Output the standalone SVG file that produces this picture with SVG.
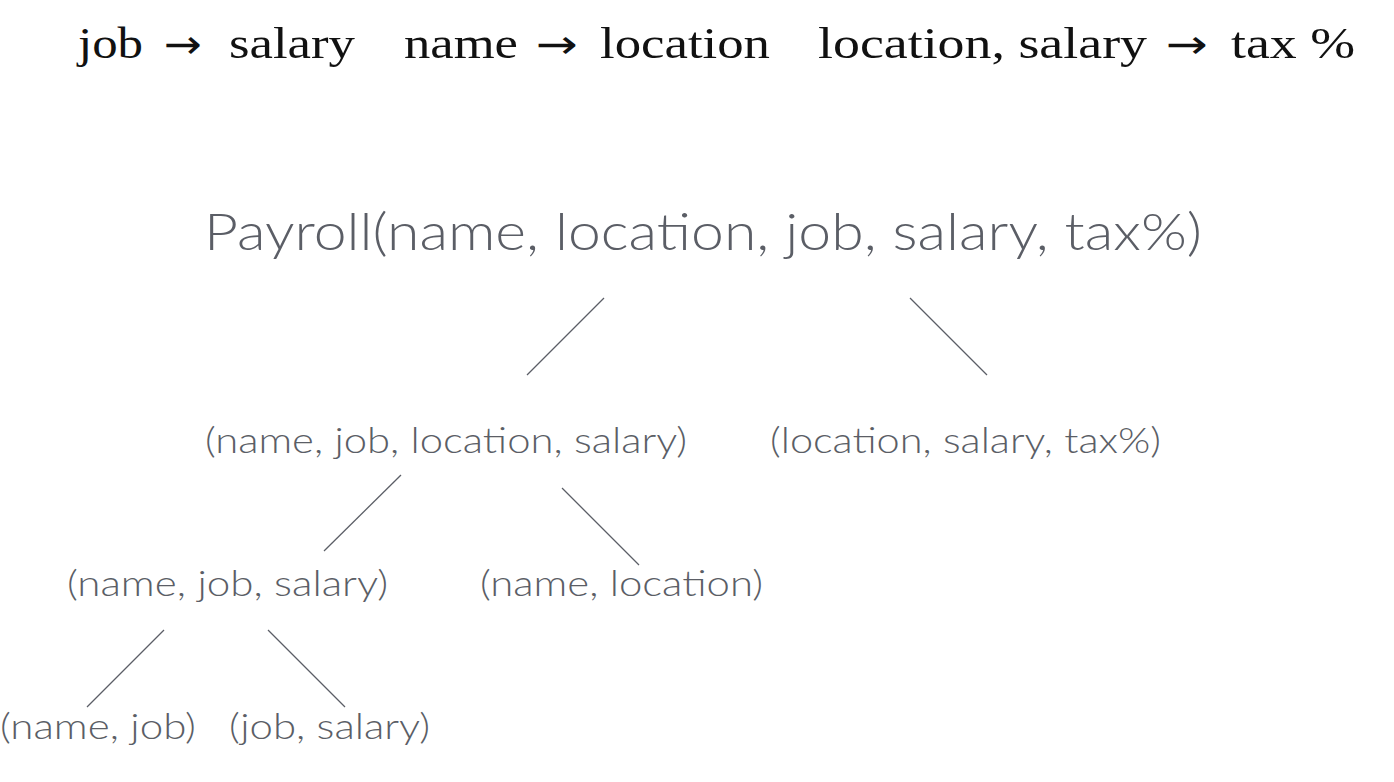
<svg xmlns="http://www.w3.org/2000/svg" width="1394" height="782" viewBox="0 0 1394 782">
<style>
.fd{font-family:"Liberation Serif","DejaVu Serif",serif;font-size:44px;fill:#111}
.ar{font-family:"DejaVu Sans",sans-serif;font-size:40px;fill:#111}
.t{font-family:Lato,"Open Sans","Liberation Sans",sans-serif;font-weight:300;fill:#5b5e66}
.e{stroke:#5b5e66;stroke-width:1.3;fill:none}
</style>
<rect width="1394" height="782" fill="#fff"/>
<g id="fds">
<text class="fd" x="78" y="58" textLength="65" lengthAdjust="spacingAndGlyphs">job</text>
<text class="ar" x="164" y="58" textLength="38" lengthAdjust="spacingAndGlyphs">→</text>
<text class="fd" x="229" y="58" textLength="126" lengthAdjust="spacingAndGlyphs">salary</text>
<text class="fd" x="404" y="58" textLength="114" lengthAdjust="spacingAndGlyphs">name</text>
<text class="ar" x="536" y="58" textLength="42" lengthAdjust="spacingAndGlyphs">→</text>
<text class="fd" x="600" y="58" textLength="170" lengthAdjust="spacingAndGlyphs">location</text>
<text class="fd" x="818" y="58" textLength="329" lengthAdjust="spacingAndGlyphs">location, salary</text>
<text class="ar" x="1166" y="58" textLength="42" lengthAdjust="spacingAndGlyphs">→</text>
<text class="fd" x="1231" y="58" textLength="124" lengthAdjust="spacingAndGlyphs">tax %</text>
</g>
<g id="payroll"><text class="t" x="204" y="250" font-size="52" textLength="998" lengthAdjust="spacingAndGlyphs">Payroll(name, location, job, salary, tax%)</text></g>
<g id="njls"><text class="t" x="205" y="453" font-size="36" textLength="482" lengthAdjust="spacingAndGlyphs">(name, job, location, salary)</text></g>
<g id="lst"><text class="t" x="770" y="453" font-size="36" textLength="391" lengthAdjust="spacingAndGlyphs">(location, salary, tax%)</text></g>
<g id="njs"><text class="t" x="67" y="596" font-size="36" textLength="321" lengthAdjust="spacingAndGlyphs">(name, job, salary)</text></g>
<g id="nl"><text class="t" x="480" y="596" font-size="36" textLength="283" lengthAdjust="spacingAndGlyphs">(name, location)</text></g>
<g id="nj"><text class="t" x="0" y="739" font-size="36" textLength="196" lengthAdjust="spacingAndGlyphs">(name, job)</text></g>
<g id="js"><text class="t" x="229" y="739" font-size="36" textLength="201" lengthAdjust="spacingAndGlyphs">(job, salary)</text></g>
<g id="connectors">
<line class="e" x1="604" y1="298" x2="527" y2="375"/>
<line class="e" x1="910" y1="298" x2="987" y2="375"/>
<line class="e" x1="401" y1="475" x2="324" y2="551"/>
<line class="e" x1="562" y1="488" x2="639" y2="565"/>
<line class="e" x1="164" y1="630" x2="87" y2="707"/>
<line class="e" x1="268" y1="630" x2="345" y2="707"/>
</g>
</svg>
